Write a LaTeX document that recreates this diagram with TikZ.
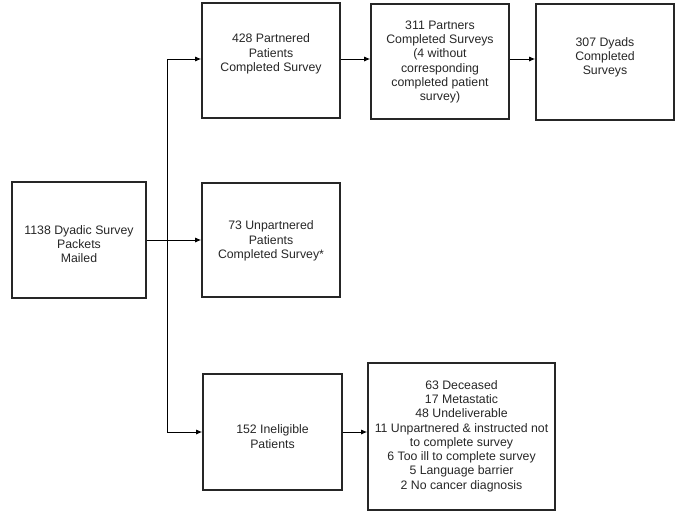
\documentclass[tikz,border=0pt]{standalone}
\usepackage{fontspec}
\setmainfont{Liberation Sans}
\usetikzlibrary{arrows.meta}
\begin{document}
\begin{tikzpicture}[x=1pt,y=-1pt,
  box/.style={draw=black!85, line width=1.6pt, rectangle, inner sep=0pt},
  lbl/.style={align=center, font=\fontsize{12.3}{14.3}\selectfont, inner sep=0pt, text=black!85},
  conn/.style={draw=black, line width=0.9pt},
  arr/.style={conn, -{Latex[length=6pt,width=5pt]}}]
\useasboundingbox (0,0) rectangle (685,517);
% boxes
\node[box, minimum width=134pt, minimum height=116pt] (mailed) at (79,240) {};
\node[box, minimum width=138pt, minimum height=115pt] (part) at (271,60.5) {};
\node[box, minimum width=138pt, minimum height=115pt] (pcs) at (440,61.5) {};
\node[box, minimum width=138pt, minimum height=116pt] (dyad) at (605,62) {};
\node[box, minimum width=138pt, minimum height=114pt] (unp) at (271,240) {};
\node[box, minimum width=139pt, minimum height=116pt] (inel) at (272.5,432) {};
\node[box, minimum width=187pt, minimum height=147pt] (why) at (461.5,436.5) {};
% labels
\node[lbl] (tmailed) at (79,244) {1138 Dyadic Survey\\Packets\\Mailed};
\node[lbl] (tpart) at (271,54) {428 Partnered\\Patients\\Completed Survey};
\node[lbl] (tpcs) at (440,62) {311 Partners\\Completed Surveys\\(4 without\\corresponding\\completed patient\\survey)};
\node[lbl] (tdyad) at (605,57.5) {307 Dyads\\Completed\\Surveys};
\node[lbl] (tunp) at (271,241) {73 Unpartnered\\Patients\\Completed Survey*};
\node[lbl] (tinel) at (272.5,436.5) {152 Ineligible\\Patients};
\node[lbl] (twhy) at (461.5,436) {63 Deceased\\17 Metastatic\\48 Undeliverable\\11 Unpartnered \& instructed not\\to complete survey\\6 Too ill to complete survey\\5 Language barrier\\2 No cancer diagnosis};
% connectors
\coordinate (tx) at (167,240);
\coordinate (ttop) at (167,59);
\coordinate (tbot) at (167,432);
\draw[conn] (ttop) -- (tbot);
\draw[arr] (ttop) -- (ttop -| part.west);
\draw[arr] (tbot) -- (inel.west);
\draw[arr] (mailed.east) -- (unp.west);
\draw[arr] (part.east |- ttop) -- (ttop -| pcs.west);
\draw[arr] (pcs.east |- ttop) -- (ttop -| dyad.west);
\draw[arr] (inel.east) -- (inel.east -| why.west);
\end{tikzpicture}
\end{document}
